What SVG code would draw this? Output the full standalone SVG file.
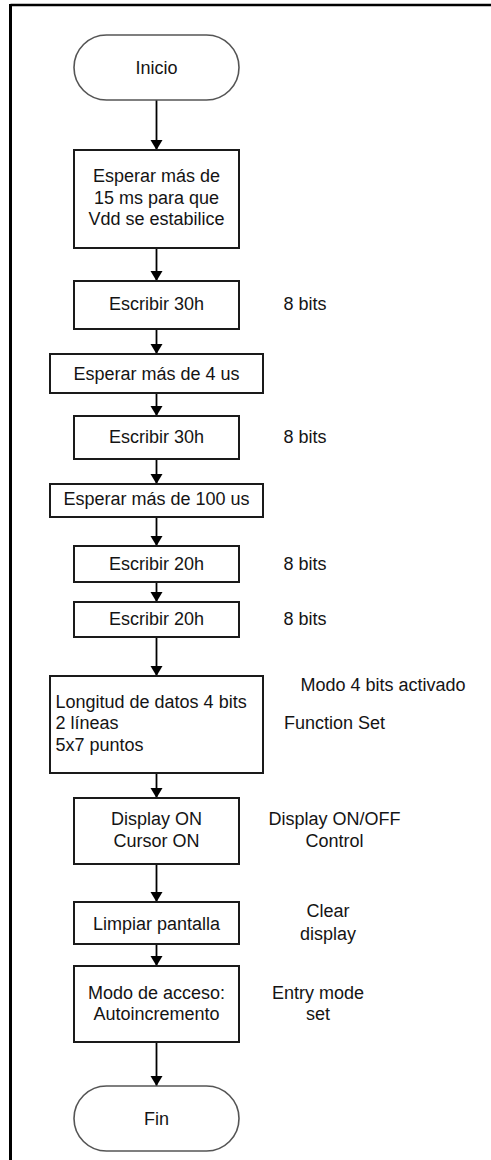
<svg xmlns="http://www.w3.org/2000/svg" width="491" height="1160" viewBox="0 0 491 1160">
<style>
text{font-family:"Liberation Sans",Arial,sans-serif;font-size:18px;fill:#141414}
.c{text-anchor:middle}
.box{fill:#fff;stroke:#1a1a1a;stroke-width:2}
.term{fill:#fff;stroke:#555;stroke-width:1.6}
.conn{stroke:#000;stroke-width:1.8;fill:none;marker-end:url(#ah)}
</style>
<defs>
<marker id="ah" markerUnits="userSpaceOnUse" markerWidth="12" markerHeight="14" refX="10" refY="6" orient="auto">
<path d="M0,0 L10,6 L0,12 Z" fill="#000"/>
</marker>
</defs>
<rect width="491" height="1160" fill="#fff"/>
<g id="frame">
<line x1="10.5" y1="5" x2="491" y2="5" stroke="#000" stroke-width="2.6"/>
<line x1="10.5" y1="4" x2="10.5" y2="1160" stroke="#000" stroke-width="3"/>
</g>
<g id="connectors">
<line class="conn" x1="156.5" y1="100" x2="156.5" y2="150"/>
<line class="conn" x1="156.5" y1="248" x2="156.5" y2="281"/>
<line class="conn" x1="156.5" y1="329" x2="156.5" y2="354"/>
<line class="conn" x1="156.5" y1="393" x2="156.5" y2="416"/>
<line class="conn" x1="156.5" y1="459" x2="156.5" y2="484"/>
<line class="conn" x1="156.5" y1="517" x2="156.5" y2="546"/>
<line class="conn" x1="156.5" y1="582" x2="156.5" y2="602"/>
<line class="conn" x1="156.5" y1="637" x2="156.5" y2="676"/>
<line class="conn" x1="156.5" y1="773" x2="156.5" y2="798"/>
<line class="conn" x1="156.5" y1="864" x2="156.5" y2="902"/>
<line class="conn" x1="156.5" y1="944" x2="156.5" y2="966"/>
<line class="conn" x1="156.5" y1="1042" x2="156.5" y2="1086"/>
</g>
<g id="inicio">
<rect class="term" x="74" y="35" width="165" height="65" rx="32.5"/>
<text class="c" x="156.5" y="73.5">Inicio</text>
</g>
<g id="esperar15">
<rect class="box" x="74" y="150" width="165" height="98"/>
<text class="c" x="156.5" y="182">Esperar más de</text>
<text class="c" x="156.5" y="203.5">15 ms para que</text>
<text class="c" x="156.5" y="225">Vdd se estabilice</text>
</g>
<g id="escribir30a">
<rect class="box" x="74" y="281" width="165" height="48"/>
<text class="c" x="156.5" y="310">Escribir 30h</text>
<text class="c" x="305" y="310">8 bits</text>
</g>
<g id="esperar4">
<rect class="box" x="50" y="354" width="213" height="39"/>
<text class="c" x="156.5" y="379.5">Esperar más de 4 us</text>
</g>
<g id="escribir30b">
<rect class="box" x="74" y="416" width="165" height="43"/>
<text class="c" x="156.5" y="443">Escribir 30h</text>
<text class="c" x="305" y="443">8 bits</text>
</g>
<g id="esperar100">
<rect class="box" x="50" y="484" width="213" height="33"/>
<text class="c" x="156.5" y="504.5">Esperar más de 100 us</text>
</g>
<g id="escribir20a">
<rect class="box" x="74" y="546" width="165" height="36"/>
<text class="c" x="156.5" y="569.5">Escribir 20h</text>
<text class="c" x="305" y="569.5">8 bits</text>
</g>
<g id="escribir20b">
<rect class="box" x="74" y="602" width="165" height="35"/>
<text class="c" x="156.5" y="625">Escribir 20h</text>
<text class="c" x="305" y="625">8 bits</text>
</g>
<g id="functionset">
<rect class="box" x="50" y="676" width="213" height="97"/>
<text x="55.5" y="707.5">Longitud de datos 4 bits</text>
<text x="55.5" y="729">2 líneas</text>
<text x="55.5" y="751">5x7 puntos</text>
<text class="c" x="383" y="691">Modo 4 bits activado</text>
<text class="c" x="334.5" y="729">Function Set</text>
</g>
<g id="display">
<rect class="box" x="74" y="798" width="165" height="66"/>
<text class="c" x="156.5" y="825">Display ON</text>
<text class="c" x="156.5" y="846.5">Cursor ON</text>
<text class="c" x="334.5" y="825">Display ON/OFF</text>
<text class="c" x="334.5" y="846.5">Control</text>
</g>
<g id="limpiar">
<rect class="box" x="74" y="902" width="165" height="42"/>
<text class="c" x="156.5" y="929.5">Limpiar pantalla</text>
<text class="c" x="328" y="917">Clear</text>
<text class="c" x="328" y="939.5">display</text>
</g>
<g id="entrymode">
<rect class="box" x="74" y="966" width="165" height="76"/>
<text class="c" x="156.5" y="998.5">Modo de acceso:</text>
<text class="c" x="156.5" y="1020">Autoincremento</text>
<text class="c" x="318" y="998.5">Entry mode</text>
<text class="c" x="318" y="1020">set</text>
</g>
<g id="fin">
<rect class="term" x="74" y="1086" width="165" height="65" rx="32.5"/>
<text class="c" x="156.5" y="1124.5">Fin</text>
</g>
</svg>
